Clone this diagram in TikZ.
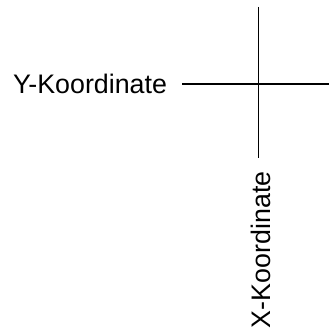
\documentclass[tikz,border=0pt]{standalone}
\usepackage{fontspec}
\setmainfont{Liberation Sans}
\begin{document}
\begin{tikzpicture}[x=1pt,y=-1pt,
  lbl/.style={font=\fontsize{26.8}{31}\selectfont, inner sep=0pt, outer sep=0pt},
  axis/.style={line width=1.8pt, black}]
\useasboundingbox (0,0) rectangle (329,329);
\node[lbl, anchor=west] (ylab) at (13,84) {Y-Koordinate};
\node[lbl, rotate=90, anchor=west] (xlab) at (261,328) {X-Koordinate};
\coordinate (ystart) at (182,84);
\coordinate (yend) at (329,84);
\coordinate (xtop) at (258.5,7);
\coordinate (xbot) at (258.5,158);
\draw[axis] (ystart) -- (yend);
\draw[axis] (xtop) -- (xbot);
\end{tikzpicture}
\end{document}
